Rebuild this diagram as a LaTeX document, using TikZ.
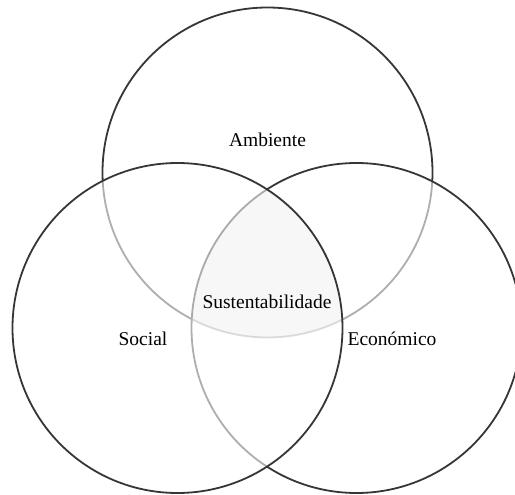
\documentclass[tikz,border=0pt]{standalone}
\usepackage{fontspec}
\setmainfont{Liberation Serif}
\definecolor{ring}{HTML}{363636}
\tikzset{
  venn/.style={circle, draw=ring, line width=1.8pt, minimum size=330pt, inner sep=0pt, outer sep=0pt},
  veil/.style={fill=white, fill opacity=0.6},
  lbl/.style={font=\fontsize{19.5}{23}\selectfont, text=black, inner sep=0pt}
}
\begin{document}
\begin{tikzpicture}[x=1pt,y=-1pt]
\clip (0,0) rectangle (515,495);
\fill[white] (0,0) rectangle (515,495);
% circles, bottom layer first
\node[venn] (amb) at (267.5,172.5) {};
\node[venn, veil] (eco) at (356.5,328) {};
\node[venn, veil] (soc) at (177.5,328) {};
% centre region
\begin{scope}
  \clip (amb.center) circle (165pt);
  \clip (eco.center) circle (165pt);
  \fill[black, opacity=0.03] (soc.center) circle (165pt);
\end{scope}
% labels
\node[lbl] (tamb) at (267.5,140) {Ambiente};
\node[lbl] (tsus) at (267,302) {Sustentabilidade};
\node[lbl] (tsoc) at (143,338.5) {Social};
\node[lbl] (teco) at (392,338.5) {Económico};
\end{tikzpicture}
\end{document}
